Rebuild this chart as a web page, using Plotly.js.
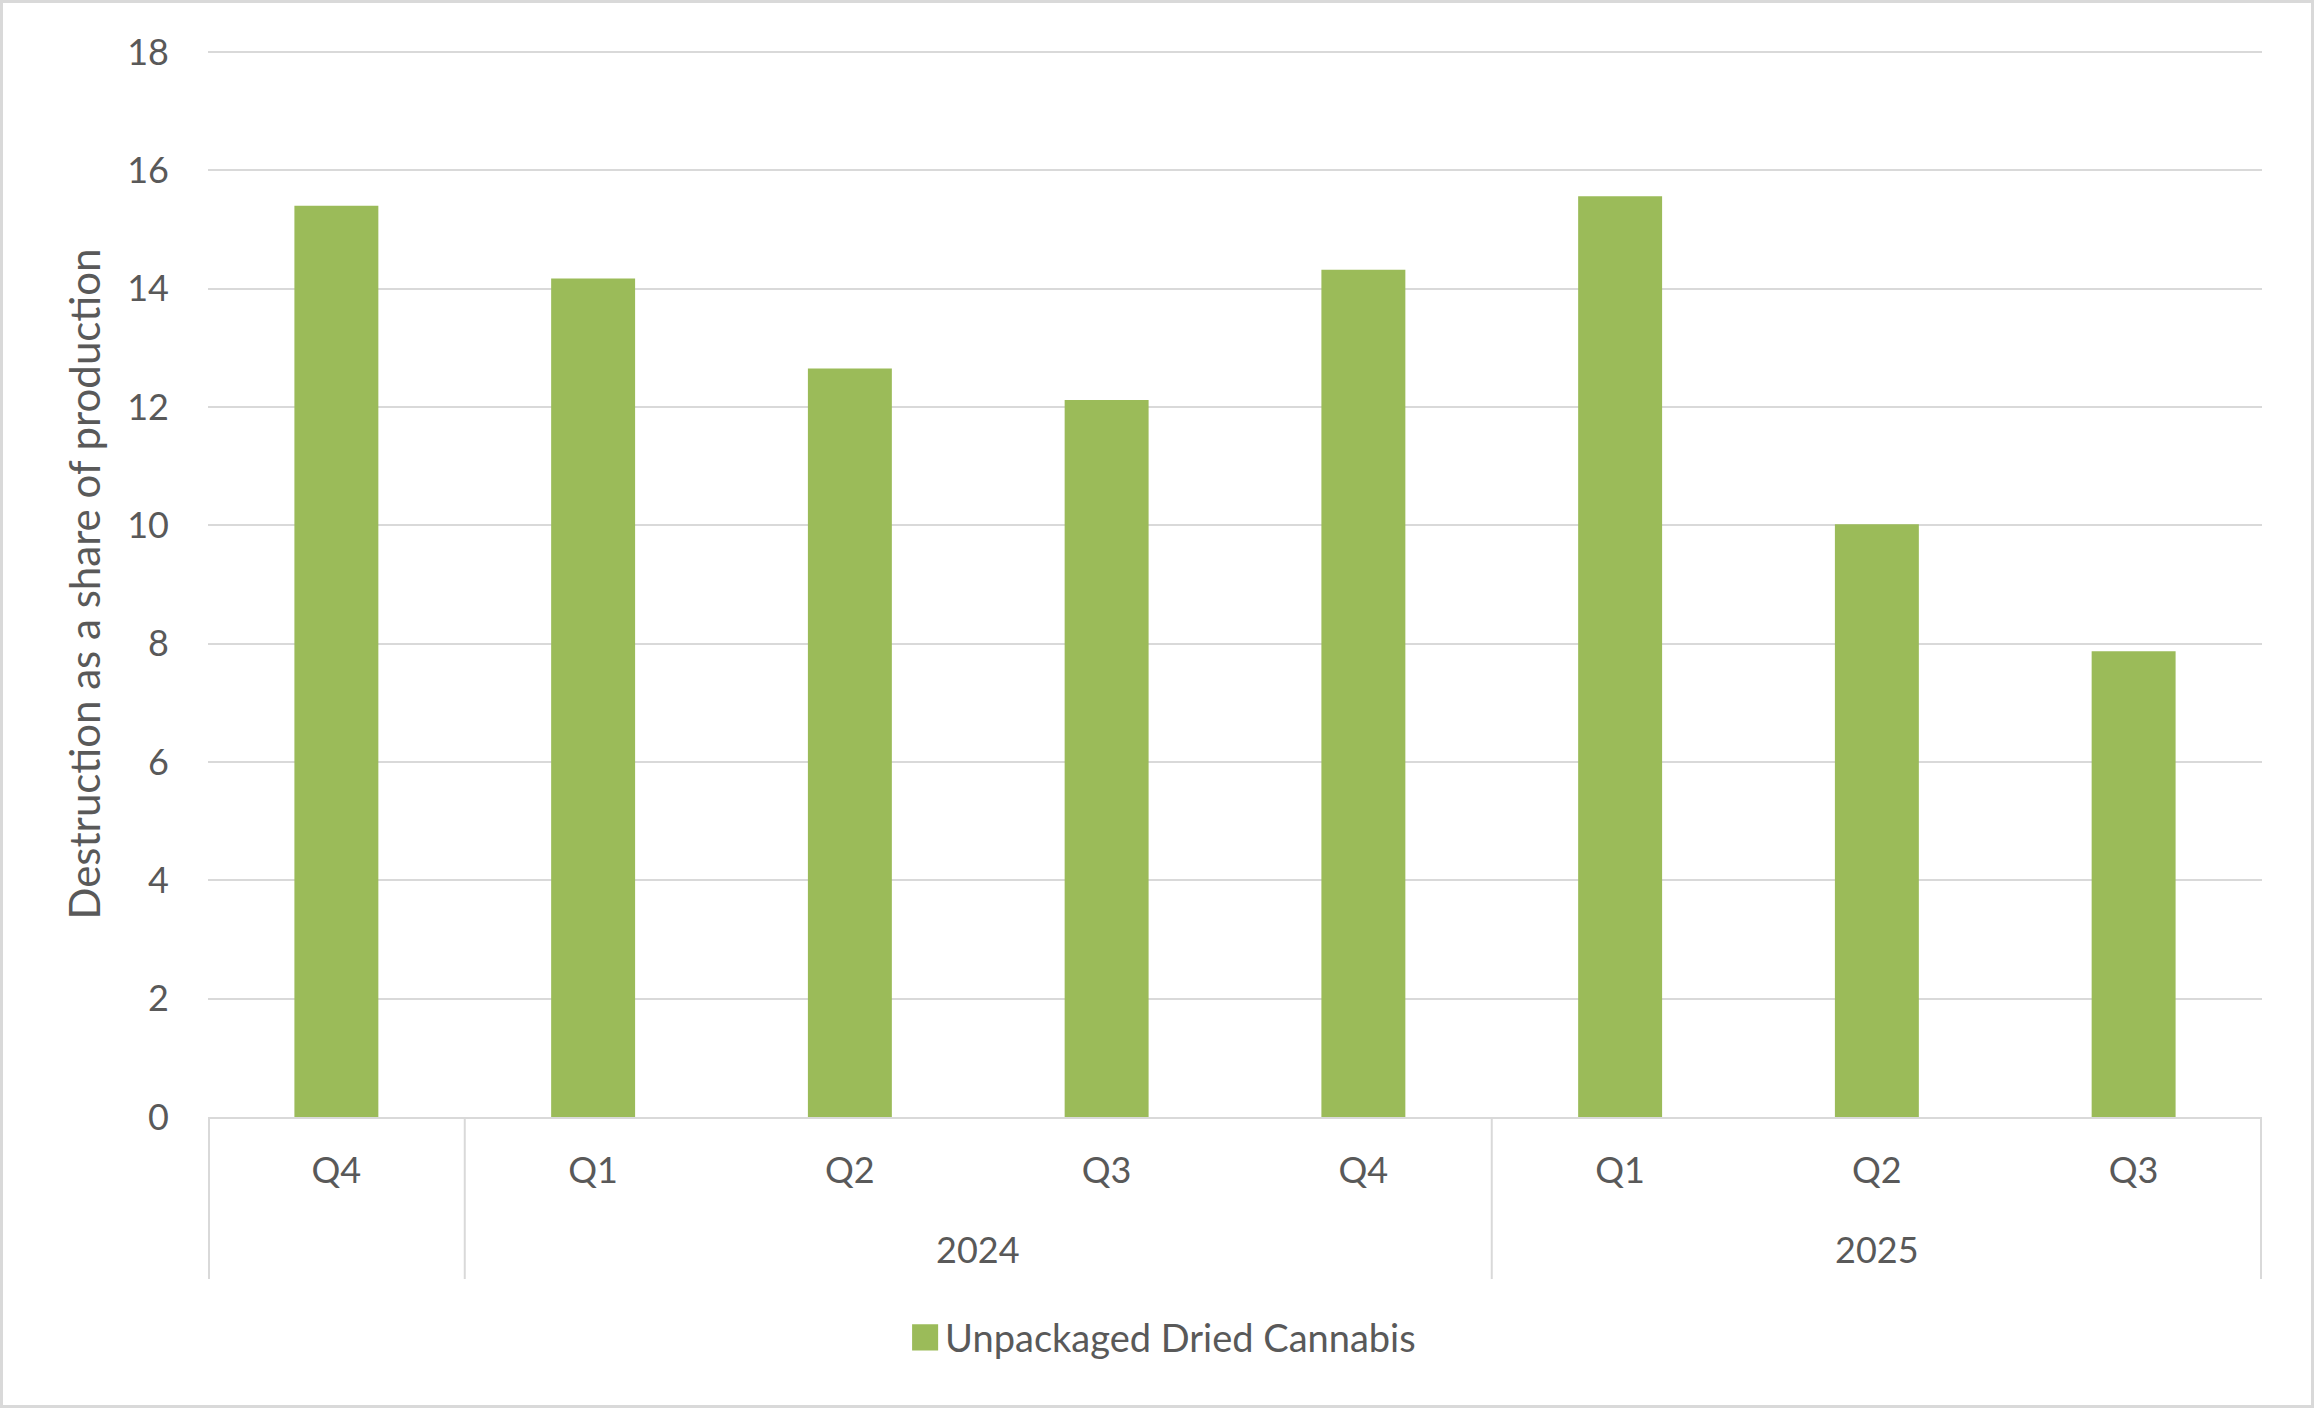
<!DOCTYPE html>
<html>
<head>
<meta charset="utf-8">
<script src="https://cdn.plot.ly/plotly-3.0.1.min.js"></script>
<style>
  html, body { margin: 0; padding: 0; background: #ffffff; }
  #wrap { position: relative; width: 2314px; height: 1408px; }
  #chart { position: absolute; left: 0; top: 0; width: 2314px; height: 1408px; }
  #frame { position: absolute; left: 0; top: 0; width: 2314px; height: 1408px; box-sizing: border-box; border: 3px solid #d9d9d9; pointer-events: none; }
  /* enlarge the legend swatch (Plotly draws a fixed 12px square at translate(20,0)) */
  #chart .legendpoints path { transform: translate(20px, 0px) scale(2.17); }
</style>
</head>
<body>
<div id="wrap">
  <div id="chart"></div>
  <div id="frame"></div>
</div>
<script>
// ---- data ----
const quarters = ["Q4", "Q1", "Q2", "Q3", "Q4", "Q1", "Q2", "Q3"];
const years = ["", "2024", "2024", "2024", "2024", "2025", "2025", "2025"];
const destructionShare = [15.40, 14.17, 12.65, 12.12, 14.32, 15.56, 10.02, 7.87];
const seriesName = "Unpackaged Dried Cannabis";
const yTicks = [0, 2, 4, 6, 8, 10, 12, 14, 16, 18];
const yTitle = "Destruction as a share of production";

// ---- styling ----
const FONT = "Lato, 'Open Sans', sans-serif";
const TEXT = "#595959";
const GRID = "#d9d9d9";
const BAR = "#9bbb59";

const idx = quarters.map((_, i) => i);

// year groups derived from the years array
const groups = [];
years.forEach((y, i) => {
  const last = groups[groups.length - 1];
  if (last && last.year === y) { last.end = i; }
  else { groups.push({ year: y, start: i, end: i }); }
});

const divY = -0.152;   // bottom of group dividers (paper)
const yearY = -0.124;  // year label centre (paper)

const shapes = [];
const boundaries = new Set();
groups.forEach(g => { boundaries.add(g.start - 0.5); boundaries.add(g.end + 0.5); });
[...boundaries].forEach(b => {
  shapes.push({
    type: "line", xref: "x", yref: "paper",
    x0: b, x1: b, y0: 0, y1: divY,
    line: { color: GRID, width: (b < 0 || b > quarters.length - 1) ? 4 : 2 }
  });
});

const annotations = groups.filter(g => g.year !== "").map(g => ({
  xref: "x", yref: "paper",
  x: (g.start + g.end) / 2, y: yearY,
  text: g.year, showarrow: false,
  xanchor: "center", yanchor: "middle",
  font: { family: FONT, size: 36, color: TEXT }
}));

const trace = {
  type: "bar",
  x: idx,
  y: destructionShare,
  name: seriesName,
  marker: { color: BAR, line: { width: 0 } },
  showlegend: true,
  hoverinfo: "x+y"
};

const layout = {
  width: 2314,
  height: 1408,
  margin: { l: 208, r: 52, t: 51, b: 291, pad: 0 },
  paper_bgcolor: "#ffffff",
  plot_bgcolor: "#ffffff",
  bargap: 0.673,
  font: { family: FONT, size: 36, color: TEXT },
  showlegend: true,
  legend: {
    orientation: "h",
    xref: "paper", yref: "paper",
    x: 0.465, xanchor: "center",
    y: -0.207, yanchor: "middle",
    font: { family: FONT, size: 38, color: TEXT },
    bgcolor: "rgba(0,0,0,0)",
    itemclick: false
  },
  xaxis: {
    type: "linear",
    range: [-0.5, quarters.length - 0.5],
    tickmode: "array",
    tickvals: idx,
    ticktext: quarters,
    showgrid: false,
    zeroline: false,
    showline: true,
    linecolor: GRID,
    linewidth: 2,
    ticks: "",
    ticklabelstandoff: 21,
    tickfont: { family: FONT, size: 36, color: TEXT },
    fixedrange: true
  },
  yaxis: {
    range: [0, 18.017],
    tickmode: "array",
    tickvals: yTicks,
    showgrid: true,
    gridcolor: GRID,
    gridwidth: 2,
    zeroline: false,
    showline: false,
    ticks: "",
    ticklabelstandoff: 38,
    tickfont: { family: FONT, size: 36, color: TEXT },
    title: { text: yTitle, font: { family: FONT, size: 42, color: TEXT }, standoff: 13 },
    automargin: false,
    fixedrange: true
  },
  shapes: shapes,
  annotations: annotations
};

Plotly.newPlot("chart", [trace], layout, { displayModeBar: false, staticPlot: true });
</script>
</body>
</html>
